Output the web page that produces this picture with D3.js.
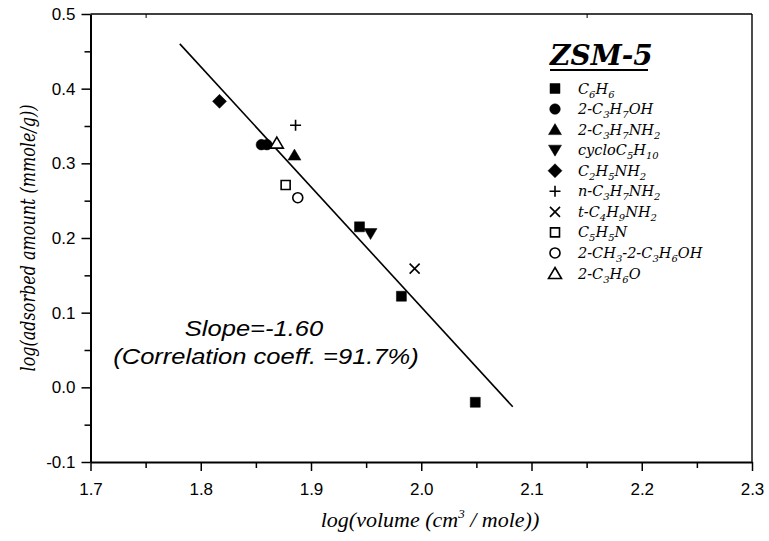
<!DOCTYPE html>
<meta charset="utf-8">
<head>
    <script src="https://cdn.jsdelivr.net/npm/d3@7"></script>
    <style>
        body { margin: 0; background: #fff; }
        .axis path, .axis line { stroke: #000; }
        .axis text { font-family: "Liberation Sans", Arial, sans-serif; font-size: 17px; fill: #000; }
    </style>
</head>
<body>
<div id="chart"></div>
<script>
    // compounds, legend order
    const compounds = ["C_6H_6", "2-C_3H_7OH", "2-C_3H_7NH_2", "cycloC_5H_10", "C_2H_5NH_2",
        "n-C_3H_7NH_2", "t-C_4H_9NH_2", "C_5H_5N", "2-CH_3-2-C_3H_6OH", "2-C_3H_6O"]
    const markers = ["square", "circle", "triangle", "triangleDown", "diamond",
        "plus", "cross", "squareOpen", "circleOpen", "triangleOpen"]
    const volumeLog = [[1.944, 1.982, 2.049], [1.855, 1.860], [1.885], [1.954], [1.817],
        [1.886], [1.994], [1.877], [1.888], [1.869]]
    const adsorbedLog = [[0.215, 0.122, -0.020], [0.325, 0.325], [0.311], [0.206], [0.383],
        [0.351], [0.159], [0.271], [0.254], [0.327]]

    const fitX = [1.781, 2.083]
    const fitY = [0.460, -0.026]

    const xTicks = [1.7, 1.8, 1.9, 2.0, 2.1, 2.2, 2.3]
    const xTickLabels = ["1.7", "1.8", "1.9", "2.0", "2.1", "2.2", "2.3"]
    const xMinor = [1.75, 1.85, 1.95, 2.05, 2.15, 2.25]
    const yTicks = [-0.1, 0.0, 0.1, 0.2, 0.3, 0.4, 0.5]
    const yTickLabels = ["-0.1", "0.0", "0.1", "0.2", "0.3", "0.4", "0.5"]
    const yMinor = [-0.05, 0.05, 0.15, 0.25, 0.35, 0.45]
    const topTicks = [1.75, 2.15]

    const width = 769, height = 541

    const svg = d3.select("#chart").append("svg")
        .attr("width", width)
        .attr("height", height)

    const x = d3.scaleLinear().domain([1.7, 2.3]).range([90.5, 752])
    const y = d3.scaleLinear().domain([-0.1, 0.5]).range([462, 14])

    // frame
    svg.append("line").attr("x1", x(1.7)).attr("x2", x(2.3)).attr("y1", y(0.5)).attr("y2", y(0.5))
        .attr("stroke", "#000").attr("stroke-width", 1.4)
    svg.append("line").attr("x1", x(2.3)).attr("x2", x(2.3)).attr("y1", y(0.5)).attr("y2", y(-0.1))
        .attr("stroke", "#000").attr("stroke-width", 1.4)
    svg.append("g")
        .attr("class", "axis")
        .attr("transform", `translate(0, ${y(0.5)})`)
        .call(d3.axisBottom(x).tickValues(topTicks).tickSize(4).tickFormat(""))
        .call(g => g.select(".domain").remove())
        .call(g => g.selectAll("text").remove())

    // minor ticks
    svg.append("g")
        .attr("class", "axis")
        .attr("transform", `translate(0, ${y(-0.1)})`)
        .call(d3.axisBottom(x).tickValues(xMinor).tickSize(6).tickFormat(""))
        .call(g => g.select(".domain").remove())
        .call(g => g.selectAll("text").remove())
        .selectAll("line").attr("stroke-width", 1.5)
    svg.append("g")
        .attr("class", "axis")
        .attr("transform", `translate(${x(1.7)}, 0)`)
        .call(d3.axisLeft(y).tickValues(yMinor).tickSize(6).tickFormat(""))
        .call(g => g.select(".domain").remove())
        .call(g => g.selectAll("text").remove())
        .selectAll("line").attr("stroke-width", 1.5)

    const bottomAxis = svg.append("g")
        .attr("class", "axis")
        .attr("transform", `translate(0, ${y(-0.1)})`)
        .call(d3.axisBottom(x).tickValues(xTicks).tickSize(9).tickSizeOuter(0).tickPadding(12)
            .tickFormat((d, i) => xTickLabels[i]))
    bottomAxis.select(".domain").attr("stroke-width", 2)
    bottomAxis.selectAll("line").attr("stroke-width", 1.5)

    const leftAxis = svg.append("g")
        .attr("class", "axis")
        .attr("transform", `translate(${x(1.7)}, 0)`)
        .call(d3.axisLeft(y).tickValues(yTicks).tickSize(9).tickSizeOuter(0).tickPadding(6)
            .tickFormat((d, i) => yTickLabels[i]))
    leftAxis.select(".domain").attr("stroke-width", 2)
    leftAxis.selectAll("line").attr("stroke-width", 1.5)

    // axis titles
    const xTitle = svg.append("text")
        .attr("x", 430)
        .attr("y", 527)
        .attr("text-anchor", "middle")
        .style("font-family", "'Liberation Serif', serif")
        .style("font-style", "italic")
        .style("font-size", "22px")
    xTitle.append("tspan").text("log(volume (cm")
    xTitle.append("tspan").attr("dy", -9).style("font-size", "13px").text("3")
    xTitle.append("tspan").attr("dy", 9).text(" / mole))")

    svg.append("text")
        .attr("transform", `translate(35, 238) scale(1.25, 1) rotate(-90)`)
        .attr("text-anchor", "middle")
        .style("font-family", "'DejaVu Serif', serif")
        .style("font-style", "italic")
        .style("font-size", "16px")
        .text("log(adsorbed amount (mmole/g))")

    // fitted line
    svg.append("path")
        .datum(d3.zip(fitX, fitY))
        .attr("fill", "none")
        .attr("stroke", "#000")
        .attr("stroke-width", 1.6)
        .attr("d", d3.line().x(d => x(d[0])).y(d => y(d[1])))

    // marker shapes
    function markerPath(kind) {
        const p = d3.path()
        if (kind == "square" || kind == "squareOpen") {
            const r = kind == "square" ? 5 : 4.5
            p.rect(-r, -r, 2 * r, 2 * r)
        } else if (kind == "circle" || kind == "circleOpen") {
            const r = kind == "circle" ? 5.3 : 5
            p.arc(0, 0, r, 0, 2 * Math.PI)
        } else if (kind == "triangle" || kind == "triangleOpen") {
            p.moveTo(0, -6); p.lineTo(6.5, 5); p.lineTo(-6.5, 5); p.closePath()
        } else if (kind == "triangleDown") {
            p.moveTo(0, 6); p.lineTo(6.5, -5); p.lineTo(-6.5, -5); p.closePath()
        } else if (kind == "diamond") {
            p.moveTo(0, -7); p.lineTo(7, 0); p.lineTo(0, 7); p.lineTo(-7, 0); p.closePath()
        } else if (kind == "plus") {
            p.moveTo(-5.5, 0); p.lineTo(5.5, 0); p.moveTo(0, -5.5); p.lineTo(0, 5.5)
        } else if (kind == "cross") {
            p.moveTo(-5, -5); p.lineTo(5, 5); p.moveTo(-5, 5); p.lineTo(5, -5)
        }
        return p.toString()
    }
    const filled = k => ["square", "circle", "triangle", "triangleDown", "diamond"].includes(k)

    function styleMarker(sel, kind) {
        sel.attr("d", markerPath(kind))
            .attr("fill", filled(kind) ? "#000" : (kind == "plus" || kind == "cross" ? "none" : "#fff"))
            .attr("stroke", "#000")
            .attr("stroke-width", filled(kind) ? 0.5 : 1.6)
    }

    const points = []
    compounds.forEach((c, i) => {
        volumeLog[i].forEach((v, j) => points.push({ kind: markers[i], x: v, y: adsorbedLog[i][j] }))
    })

    svg.append("g").selectAll("path")
        .data(points)
        .enter()
        .append("path")
        .attr("transform", d => `translate(${x(d.x)}, ${y(d.y)})`)
        .each(function (d) { styleMarker(d3.select(this), d.kind) })

    // annotation (scan is stretched sideways, so widen the text a little)
    const noteText = (cx, cy, s) => svg.append("text")
        .attr("transform", `translate(${cx}, ${cy}) scale(1.16, 1)`)
        .attr("text-anchor", "middle")
        .style("font-family", "'Liberation Sans', Arial, sans-serif")
        .style("font-style", "italic")
        .style("font-size", "22px")
        .text(s)
    noteText(254, 336, "Slope=-1.60")
    noteText(266, 364, "(Correlation coeff. =91.7%)")

    // legend
    const legend = svg.append("g")
    legend.append("text")
        .attr("x", 550).attr("y", 65)
        .style("font-family", "'DejaVu Serif', serif")
        .style("font-style", "italic")
        .style("font-weight", "bold")
        .style("font-size", "28px")
        .text("ZSM-5")
    legend.append("line")
        .attr("x1", 550).attr("x2", 648).attr("y1", 70).attr("y2", 70)
        .attr("stroke", "#000").attr("stroke-width", 2)

    const rowY = d3.scalePoint().domain(d3.range(compounds.length)).range([88.5, 273.5])

    compounds.forEach((c, i) => {
        const row = legend.append("g").attr("transform", `translate(0, ${rowY(i)})`)
        row.append("path")
            .attr("transform", "translate(555, 0)")
            .call(styleMarker, markers[i])
        const t = row.append("text")
            .attr("x", 578).attr("y", 5)
            .style("font-family", "'DejaVu Serif', serif")
            .style("font-style", "italic")
            .style("font-size", "14.5px")
        let low = false
        c.split(/(_\d+)/).filter(s => s.length).forEach(s => {
            if (s[0] == "_") {
                t.append("tspan").attr("dy", 4).style("font-size", "10px").text(s.slice(1))
                low = true
            } else {
                t.append("tspan").attr("dy", low ? -4 : 0).text(s)
                low = false
            }
        })
    })
</script>
</body>
